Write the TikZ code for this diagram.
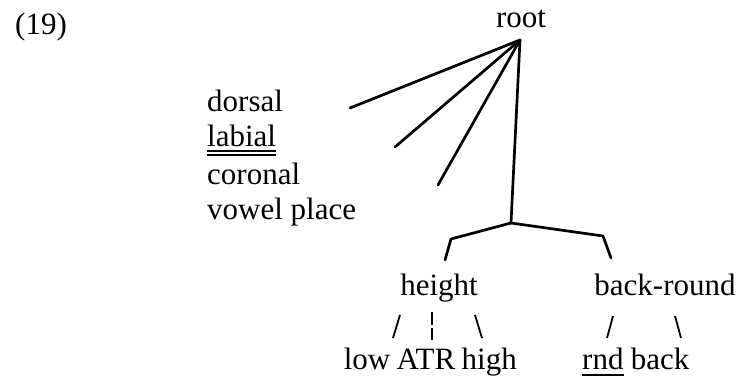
\documentclass[tikz,border=0pt]{standalone}
\usepackage{fontspec}
\setmainfont{Liberation Serif}
\usepackage{tikz}
\usetikzlibrary{positioning}

\begin{document}
\begin{tikzpicture}[x=1pt,y=-1pt,
  every node/.style={font=\fontsize{31}{36}\selectfont,inner sep=0pt},
  lbl/.style={anchor=base west},
  cat/.style={anchor=base},
  branch/.style={line width=2.7pt,line cap=round,line join=round},
  stroke/.style={line width=1.8pt},
  uline/.style={line width=1.2pt}]
  \useasboundingbox (0,0) rectangle (740,377);
  \node[lbl] (ex) at (15,35) {(19)};
  \node[cat] (root) at (521,28) {root};
  % place features
  \node[lbl] (dorsal) at (207,112) {dorsal};
  \node[lbl] (labial) at (207,147) {labial};
  \node[lbl] (coronal) at (207,185) {coronal};
  \node[lbl] (vplace) at (207,220) {vowel place};
  \draw[uline] ([yshift=-4pt]labial.base west) -- ([yshift=-4pt]labial.base east);
  \draw[uline] ([yshift=-8pt]labial.base west) -- ([yshift=-8pt]labial.base east);
  \coordinate (rt) at (520,40);
  \coordinate (d) at (350,108);
  \coordinate (l) at (395,147);
  \coordinate (c) at (438,185);
  \coordinate (vp) at (511,223);
  \draw[branch] (rt) -- (d);
  \draw[branch] (rt) -- (l);
  \draw[branch] (rt) -- (c);
  \draw[branch] (rt) -- (vp);
  % vowel place daughters
  \node[cat] (height) at (439,295) {height};
  \node[cat] (bkrd) at (665,295) {back-round};
  \draw[branch] (vp) -- (451,239) -- (445,260);
  \draw[branch] (vp) -- (603,236) -- (611,258);
  \node[cat] (atr) at (426,370) {ATR};
  \node[anchor=base east] (low) at ([xshift=-6pt]atr.base west) {low};
  \node[anchor=base west] (high) at ([xshift=6pt]atr.base east) {high};
  \node[lbl] (rnd) at (582,370) {rnd};
  \node[anchor=base west] (back) at ([xshift=7pt]rnd.base east) {back};
  \draw[uline] ([yshift=-5pt]rnd.base west) -- ([yshift=-5pt]rnd.base east);
  \draw[stroke] (400,315) -- (393,338);
  \draw[stroke,dash pattern=on 13pt off 3pt] (432,312) -- (432,340);
  \draw[stroke] (475,315) -- (482,338);
  \draw[stroke] (613,316) -- (607,338);
  \draw[stroke] (675,316) -- (681,338);
\end{tikzpicture}
\end{document}
